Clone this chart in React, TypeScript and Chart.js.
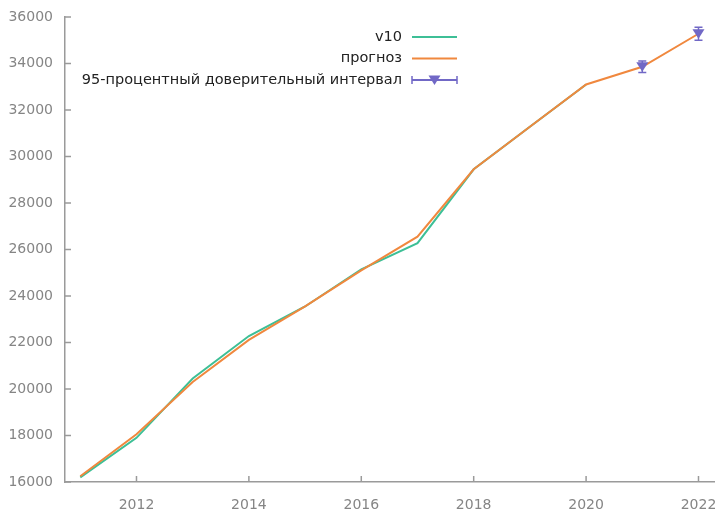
import { useEffect, useRef } from "react";
import { Chart, registerables } from "chart.js";

Chart.register(...registerables);

// ---- data ----
const years = [2011, 2012, 2013, 2014, 2015, 2016, 2017, 2018, 2019, 2020, 2021, 2022];
const v10Values = [16200, 17900, 20450, 22280, 23550, 25150, 26270, 29450, 31280, 33100];
const forecastValues = [16250, 18050, 20300, 22110, 23550, 25100, 26550, 29450, 31280, 33100, 33860, 35280];
const ciYears = [2021, 2022];
const ciMid = [33860, 35280];
const ciLow = [33610, 35000];
const ciHigh = [34110, 35560];
const xTickValues = [2012, 2014, 2016, 2018, 2020, 2022];
const yTickValues = [16000, 18000, 20000, 22000, 24000, 26000, 28000, 30000, 32000, 34000, 36000];
const labels = ["v10", "прогноз", "95-процентный доверительный интервал"];

const GREEN = "#3dbf96";
const ORANGE = "#f0883e";
const PURPLE = "#7168c6";
const AXIS = "#9a9a9a";
const TICKTXT = "#858585";
const FONT = "DejaVu Sans";

const drawTriangle = (ctx: CanvasRenderingContext2D, x: number, y: number, r: number) => {
  ctx.beginPath();
  ctx.moveTo(x - r, y - r * 0.75);
  ctx.lineTo(x + r, y - r * 0.75);
  ctx.lineTo(x, y + r * 0.85);
  ctx.closePath();
  ctx.fill();
};

const overlayPlugin = {
  id: "overlay",
  afterDatasetsDraw(chart: any) {
    const ctx: CanvasRenderingContext2D = chart.ctx;
    const xs = chart.scales.x;
    const ys = chart.scales.y;
    const area = chart.chartArea;
    ctx.save();
    // inward ticks
    ctx.strokeStyle = AXIS;
    ctx.lineWidth = 1.5;
    yTickValues.forEach((v) => {
      const py = ys.getPixelForValue(v);
      ctx.beginPath();
      ctx.moveTo(area.left, py);
      ctx.lineTo(area.left + 6, py);
      ctx.stroke();
    });
    xTickValues.forEach((v) => {
      const px = xs.getPixelForValue(v);
      ctx.beginPath();
      ctx.moveTo(px, area.bottom);
      ctx.lineTo(px, area.bottom - 6);
      ctx.stroke();
    });
    // error bars
    ctx.strokeStyle = PURPLE;
    ctx.fillStyle = PURPLE;
    ctx.lineWidth = 1.5;
    ciYears.forEach((yr, i) => {
      const px = xs.getPixelForValue(yr);
      const lo = ys.getPixelForValue(ciLow[i]);
      const hi = ys.getPixelForValue(ciHigh[i]);
      ctx.beginPath();
      ctx.moveTo(px, lo);
      ctx.lineTo(px, hi);
      ctx.moveTo(px - 4, lo);
      ctx.lineTo(px + 4, lo);
      ctx.moveTo(px - 4, hi);
      ctx.lineTo(px + 4, hi);
      ctx.stroke();
      drawTriangle(ctx, px, ys.getPixelForValue(ciMid[i]), 6);
    });
    // legend
    const textRight = 402;
    const sx0 = 412;
    const sx1 = 457;
    const rowY = [37, 58.5, 80];
    const colors = [GREEN, ORANGE, PURPLE];
    ctx.font = `14.5px "${FONT}"`;
    ctx.textAlign = "right";
    ctx.textBaseline = "middle";
    chart.data.datasets.forEach((ds: any, i: number) => {
      const y = rowY[i];
      ctx.fillStyle = "#222";
      ctx.fillText(ds.label, textRight, y);
      ctx.strokeStyle = colors[i];
      ctx.fillStyle = colors[i];
      ctx.lineWidth = 2;
      ctx.beginPath();
      ctx.moveTo(sx0, y);
      ctx.lineTo(sx1, y);
      ctx.stroke();
      if (i === 2) {
        ctx.lineWidth = 1.5;
        ctx.beginPath();
        ctx.moveTo(sx0, y - 4);
        ctx.lineTo(sx0, y + 4);
        ctx.moveTo(sx1, y - 4);
        ctx.lineTo(sx1, y + 4);
        ctx.stroke();
        drawTriangle(ctx, (sx0 + sx1) / 2, y, 6);
      }
    });
    ctx.restore();
  },
};

const zeroPad = (scale: any) => {
  scale.paddingLeft = 0;
  scale.paddingRight = 0;
  scale.paddingTop = 0;
  scale.paddingBottom = 0;
};

export default function App() {
  const ref = useRef<HTMLCanvasElement | null>(null);

  useEffect(() => {
    if (!ref.current) return;
    const chart = new Chart(ref.current, {
      type: "scatter",
      data: {
        datasets: [
          {
            label: labels[0],
            data: v10Values.map((v, i) => ({ x: years[i], y: v })),
            showLine: true,
            borderColor: GREEN,
            backgroundColor: GREEN,
            borderWidth: 2,
            pointRadius: 0,
            order: 2,
          },
          {
            label: labels[1],
            data: forecastValues.map((v, i) => ({ x: years[i], y: v })),
            showLine: true,
            borderColor: ORANGE,
            backgroundColor: ORANGE,
            borderWidth: 2,
            pointRadius: 0,
            order: 1,
          },
          {
            label: labels[2],
            data: ciMid.map((v, i) => ({ x: ciYears[i], y: v })),
            showLine: false,
            borderColor: PURPLE,
            backgroundColor: PURPLE,
            pointRadius: 0,
            order: 0,
          },
        ],
      },
      options: {
        animation: false,
        responsive: false,
        maintainAspectRatio: false,
        layout: { padding: { top: 17, right: 8, left: 0, bottom: 0 } },
        plugins: {
          legend: { display: false },
          tooltip: { enabled: false },
        },
        scales: {
          x: {
            type: "linear",
            min: 2010.728,
            max: 2022.276,
            afterBuildTicks: (scale: any) => {
              scale.ticks = xTickValues.map((v) => ({ value: v }));
            },
            afterFit: (scale: any) => {
              scale.height = 31;
              zeroPad(scale);
            },
            grid: { display: false, drawTicks: false },
            border: { display: true, color: AXIS, width: 1.5 },
            ticks: {
              color: TICKTXT,
              font: { family: FONT, size: 14 },
              padding: 15,
              maxRotation: 0,
              callback: (v: any) => String(v),
            },
          },
          y: {
            type: "linear",
            min: 16000,
            max: 36000,
            afterBuildTicks: (scale: any) => {
              scale.ticks = yTickValues.map((v) => ({ value: v }));
            },
            afterFit: (scale: any) => {
              scale.width = 65;
              zeroPad(scale);
            },
            grid: { display: false, drawTicks: false },
            border: { display: true, color: AXIS, width: 1.5 },
            ticks: {
              color: TICKTXT,
              font: { family: FONT, size: 14 },
              padding: 12,
              callback: (v: any) => String(v),
            },
          },
        },
      },
      plugins: [overlayPlugin],
    });
    return () => chart.destroy();
  }, []);

  return (
    <div style={{ position: "fixed", left: 0, top: 0, width: 722, height: 513, background: "#fff" }}>
      <canvas ref={ref} width={722} height={513} style={{ width: 722, height: 513 }} />
    </div>
  );
}
